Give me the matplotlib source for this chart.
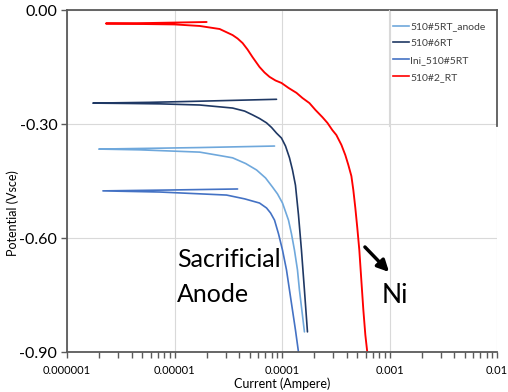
import numpy as np
import matplotlib
matplotlib.use("Agg")
import matplotlib.pyplot as plt
from matplotlib.lines import Line2D

plt.rcParams['font.family'] = ['Lato', 'DejaVu Sans']

# ---- data (current in A, potential in Vsce) ----
red_I = [1.99e-5, 5.89e-6, 2.30e-6, 4.76e-6, 1.005e-5, 1.715e-5, 2.12e-5, 2.63e-5, 3.47e-5,
         3.86e-5, 4.30e-5, 4.78e-5, 5.32e-5, 6.18e-5, 6.88e-5, 7.66e-5, 8.70e-5, 9.89e-5,
         1.149e-4, 1.363e-4, 1.55e-4, 1.80e-4, 2.046e-4, 2.376e-4, 2.645e-4, 2.94e-4,
         3.204e-4, 3.57e-4, 3.884e-4, 4.143e-4, 4.42e-4, 4.609e-4, 4.81e-4, 5.02e-4,
         5.24e-4, 5.47e-4, 5.71e-4, 5.96e-4, 6.21e-4]
red_E = [-0.0316, -0.0342, -0.0355, -0.0368, -0.038, -0.042, -0.046, -0.050, -0.066,
         -0.075, -0.087, -0.104, -0.124, -0.150, -0.1645, -0.176, -0.1855, -0.192,
         -0.205, -0.218, -0.2316, -0.245, -0.263, -0.282, -0.297, -0.316,
         -0.329, -0.355, -0.382, -0.408, -0.437, -0.474, -0.521, -0.574,
         -0.632, -0.711, -0.789, -0.855, -0.900]

dark_I = [8.89e-5, 1.715e-5, 5.89e-6, 1.743e-6, 3.84e-6, 7.30e-6, 1.715e-5, 3.47e-5, 4.49e-5,
          5.32e-5, 6.18e-5, 7.18e-5, 7.99e-5, 8.89e-5, 9.89e-5, 1.078e-4, 1.174e-4, 1.252e-4,
          1.334e-4, 1.423e-4, 1.517e-4, 1.617e-4, 1.725e-4]
dark_E = [-0.235, -0.240, -0.243, -0.245, -0.246, -0.247, -0.250, -0.258, -0.266,
          -0.276, -0.2855, -0.297, -0.309, -0.324, -0.337, -0.358, -0.389, -0.421,
          -0.461, -0.539, -0.632, -0.737, -0.847]

light_I = [8.52e-5, 1.715e-5, 5.89e-6, 1.98e-6, 4.76e-6, 1.715e-5, 2.63e-5, 3.47e-5, 4.59e-5,
           5.80e-5, 7.03e-5, 8.16e-5, 9.08e-5, 1.011e-4, 1.149e-4, 1.225e-4, 1.306e-4,
           1.393e-4, 1.453e-4, 1.617e-4]
light_E = [-0.358, -0.362, -0.364, -0.366, -0.368, -0.374, -0.383, -0.389, -0.404,
           -0.421, -0.442, -0.466, -0.484, -0.508, -0.553, -0.589, -0.632,
           -0.684, -0.737, -0.847]

mid_I = [3.86e-5, 9.04e-6, 2.16e-6, 7.30e-6, 3.05e-5, 4.49e-5, 6.18e-5, 7.18e-5, 7.82e-5,
         8.52e-5, 9.28e-5, 1.011e-4, 1.101e-4, 1.174e-4, 1.334e-4, 1.423e-4]
mid_E = [-0.471, -0.4737, -0.476, -0.479, -0.487, -0.497, -0.508, -0.521, -0.534,
         -0.553, -0.589, -0.632, -0.684, -0.737, -0.842, -0.900]

series_names = ["510#5RT_anode", "510#6RT", "Ini_510#5RT", "510#2_RT"]
series_colors = ["#6fa8dc", "#1f3864", "#4472c4", "#ff0000"]

x_ticks = [1e-6, 1e-5, 1e-4, 1e-3, 1e-2]
x_tick_labels = ["0.000001", "0.00001", "0.0001", "0.001", "0.01"]
y_ticks = [0.0, -0.3, -0.6, -0.9]
y_tick_labels = ["0.00", "-0.30", "-0.60", "-0.90"]

W, H = 508, 392
fig = plt.figure(figsize=(W / 100, H / 100), dpi=100)

def fx(x):
    return x / W

def fy(y):
    return 1 - y / H

ax = fig.add_axes([fx(67), fy(352), fx(497) - fx(67), fy(10) - fy(352)])

data = [(light_I, light_E), (dark_I, dark_E), (mid_I, mid_E), (red_I, red_E)]
widths = [1.2, 1.2, 1.2, 1.35]
for (I, E), c, w in zip(data, series_colors, widths):
    ax.plot(I, E, color=c, lw=w, solid_joinstyle='round', solid_capstyle='round')

ax.set_xscale('log')
ax.set_xlim(1e-6, 1e-2)
ax.set_ylim(-0.9, 0.0)
ax.set_xticks(x_ticks)
ax.set_xticklabels(x_tick_labels)
ax.set_yticks(y_ticks)
ax.set_yticklabels(y_tick_labels)
ax.xaxis.set_minor_locator(matplotlib.ticker.LogLocator(base=10, subs=np.arange(2, 10)))
ax.xaxis.set_minor_formatter(matplotlib.ticker.NullFormatter())

spc = '#5a5a5a'
for s in ['left', 'bottom', 'top']:
    ax.spines[s].set_color(spc)
    ax.spines[s].set_linewidth(1.3)
ax.spines['right'].set_visible(False)

ax.tick_params(axis='both', which='both', direction='out', color=spc, width=1)
ax.tick_params(axis='x', which='major', length=4, labelsize=8, pad=5)
ax.tick_params(axis='x', which='minor', length=4)
ax.tick_params(axis='y', which='major', length=4, labelsize=11.5, pad=3)
ax.tick_params(top=False, right=False)

ax.grid(True, which='major', color='#d9d9d9', lw=0.8)
ax.set_axisbelow(True)

fig.text(fx(282), fy(384), "Current (Ampere)", ha='center', va='center', fontsize=9)
fig.text(fx(13), fy(213), "Potential (Vsce)", ha='center', va='center', rotation=90, fontsize=9)

# annotations
fig.text(fx(177), fy(267), "Sacrificial", ha='left', va='baseline', fontsize=18)
fig.text(fx(177), fy(302), "Anode", ha='left', va='baseline', fontsize=18)
fig.text(fx(382), fy(303), "Ni", ha='left', va='baseline', fontsize=19)
fig.patches.append(matplotlib.patches.FancyArrowPatch(
    (fx(363), fy(245)), (fx(391), fy(274)), transform=fig.transFigure,
    arrowstyle='-|>', mutation_scale=17, lw=2.5, color='black'))

# legend
handles = [Line2D([0], [0], color=c, lw=1.2) for c in series_colors]
leg = fig.legend(handles, series_names, loc='upper left',
                 bbox_to_anchor=(fx(393), fy(22)), frameon=False, fontsize=7.5,
                 handlelength=1.5, handletextpad=0.15, labelspacing=0.72,
                 borderpad=0, borderaxespad=0)
for t in leg.get_texts():
    t.set_color('#404040')

fig.add_artist(Line2D([fx(389), fx(389)], [fy(10), fy(126)], color='#d9d9d9', lw=0.8))
fig.add_artist(Line2D([fx(497), fx(497)], [fy(10), fy(126)], color=spc, lw=1.3))

fig.savefig("out.png", dpi=100)
